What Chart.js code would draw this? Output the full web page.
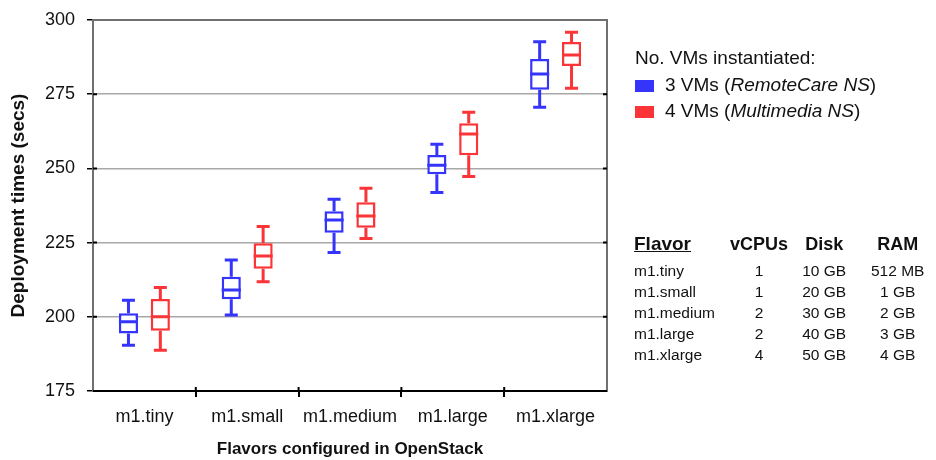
<!DOCTYPE html>
<html>
<head>
<meta charset="utf-8">
<script src="https://cdn.jsdelivr.net/npm/chart.js@4.4.1/dist/chart.umd.min.js"></script>
<style>
    body { margin: 0; background: #fff; font-family: "Liberation Sans", Arial, sans-serif; }
    #wrap { position: relative; width: 936px; height: 460px; }
    #boxChart { position: absolute; left: 0; top: 0; }
    .legend { position: absolute; left: 635px; top: 44px; font-size: 19px; color: #111; }
    .legend .title { height: 28px; line-height: 28px; }
    .legend .row { height: 26px; line-height: 26px; white-space: nowrap; }
    .legend .sw { display: inline-block; width: 19px; height: 12px; margin-right: 11px; vertical-align: -1px; }
    .flavors { position: absolute; left: 634px; top: 232px; border-collapse: collapse; color: #111; }
    .flavors td, .flavors th { padding: 0; white-space: nowrap; }
    .flavors th { font-size: 18px; font-weight: bold; height: 28px; line-height: 24px; text-align: center; vertical-align: top; }
    .flavors th.first { font-size: 19px; text-align: left; text-decoration: underline; }
    .flavors td { font-size: 15.5px; height: 21px; line-height: 21px; text-align: center; }
    .flavors td.first { text-align: left; }
</style>
</head>
<body>
<div id="wrap">
    <canvas id="boxChart" width="936" height="460"></canvas>
    <div class="legend">
        <div class="title">No. VMs instantiated:</div>
        <div class="row"><span class="sw" style="background:#3434fb"></span>3 VMs (<i>RemoteCare NS</i>)</div>
        <div class="row"><span class="sw" style="background:#fb3438"></span>4 VMs (<i>Multimedia NS</i>)</div>
    </div>
    <table class="flavors">
        <colgroup><col style="width:96px"><col style="width:60px"><col style="width:72px"><col style="width:78px"></colgroup>
        <tr><th class="first">Flavor</th><th>vCPUs</th><th>Disk</th><th>RAM</th></tr>
        <tr><td class="first">m1.tiny</td><td>1</td><td>10 GB</td><td>512 MB</td></tr>
        <tr><td class="first">m1.small</td><td>1</td><td>20 GB</td><td>1 GB</td></tr>
        <tr><td class="first">m1.medium</td><td>2</td><td>30 GB</td><td>2 GB</td></tr>
        <tr><td class="first">m1.large</td><td>2</td><td>40 GB</td><td>3 GB</td></tr>
        <tr><td class="first">m1.xlarge</td><td>4</td><td>50 GB</td><td>4 GB</td></tr>
    </table>
</div>
<script>
const categories = ['m1.tiny', 'm1.small', 'm1.medium', 'm1.large', 'm1.xlarge'];
const yTicks = [175, 200, 225, 250, 275, 300];

// 3 VMs (RemoteCare NS)
const vm3Min    = [190.4, 200.6, 221.7, 241.9, 270.6];
const vm3Q1     = [194.4, 205.9, 228.3, 248.0, 276.5];
const vm3Median = [198.3, 209.0, 232.6, 251.1, 281.8];
const vm3Q3     = [201.2, 213.5, 235.6, 254.5, 286.9];
const vm3Max    = [205.6, 219.1, 239.6, 258.1, 292.7];

// 4 VMs (Multimedia NS)
const vm4Min    = [188.7, 211.8, 226.4, 247.3, 277.0];
const vm4Q1     = [195.3, 216.2, 230.0, 254.4, 284.5];
const vm4Median = [200.0, 220.5, 234.0, 261.6, 288.2];
const vm4Q3     = [206.0, 224.8, 238.6, 265.2, 292.6];
const vm4Max    = [209.9, 230.4, 243.3, 268.9, 295.9];

const BLUE = '#3434fb';
const RED = '#fb3438';
const FONT = '"Liberation Sans", Arial, sans-serif';

function boxes(q1, q3) {
    return q1.map(function (v, i) { return [v, q3[i]]; });
}

/* whiskers + median on top of the floating bars */
const whiskerPlugin = {
    id: 'whiskers',
    afterDatasetsDraw(chart) {
        const ctx = chart.ctx;
        const y = chart.scales.y;
        chart.data.datasets.forEach(function (ds, di) {
            const meta = chart.getDatasetMeta(di);
            meta.data.forEach(function (bar, i) {
                const x = bar.x, half = bar.width / 2, cap = 6.5;
                const pMin = y.getPixelForValue(ds.stats.min[i]);
                const pMax = y.getPixelForValue(ds.stats.max[i]);
                const pQ1 = y.getPixelForValue(ds.stats.q1[i]);
                const pQ3 = y.getPixelForValue(ds.stats.q3[i]);
                const pMed = y.getPixelForValue(ds.stats.median[i]);
                ctx.save();
                ctx.strokeStyle = ds.borderColor;
                ctx.lineWidth = 3;
                ctx.beginPath();
                ctx.moveTo(x, pQ3); ctx.lineTo(x, pMax);
                ctx.moveTo(x, pQ1); ctx.lineTo(x, pMin);
                ctx.moveTo(x - cap, pMax); ctx.lineTo(x + cap, pMax);
                ctx.moveTo(x - cap, pMin); ctx.lineTo(x + cap, pMin);
                ctx.moveTo(x - half, pMed); ctx.lineTo(x + half, pMed);
                ctx.stroke();
                ctx.restore();
            });
        });
    }
};

/* plot frame and the small inner tick marks */
const framePlugin = {
    id: 'frame',
    afterDraw(chart) {
        const ctx = chart.ctx;
        const a = chart.chartArea;
        const y = chart.scales.y;
        const x = chart.scales.x;
        ctx.save();
        ctx.strokeStyle = '#707070';
        ctx.lineWidth = 2;
        ctx.strokeRect(a.left, a.top, a.right - a.left, a.bottom - a.top);
        ctx.strokeStyle = '#000';
        ctx.lineWidth = 2;
        ctx.beginPath();
        ctx.moveTo(a.left, a.bottom); ctx.lineTo(a.right, a.bottom);
        yTicks.slice(1, -1).forEach(function (v) {
            const p = y.getPixelForValue(v);
            ctx.moveTo(a.left, p); ctx.lineTo(a.left + 4, p);
            ctx.moveTo(a.right - 4, p); ctx.lineTo(a.right, p);
        });
        for (let i = 1; i < categories.length; i++) {
            const p = (x.getPixelForValue(i - 1) + x.getPixelForValue(i)) / 2;
            ctx.moveTo(p, a.bottom); ctx.lineTo(p, a.bottom - 4);
        }
        ctx.stroke();
        ctx.restore();
    }
};

new Chart(document.getElementById('boxChart'), {
    type: 'bar',
    data: {
        labels: categories,
        datasets: [{
            label: '3 VMs (RemoteCare NS)',
            data: boxes(vm3Q1, vm3Q3),
            stats: { min: vm3Min, q1: vm3Q1, median: vm3Median, q3: vm3Q3, max: vm3Max },
            backgroundColor: '#ffffff',
            borderColor: BLUE,
            borderWidth: 2.5,
            borderSkipped: false,
            categoryPercentage: 0.62,
            barPercentage: 0.6
        }, {
            label: '4 VMs (Multimedia NS)',
            data: boxes(vm4Q1, vm4Q3),
            stats: { min: vm4Min, q1: vm4Q1, median: vm4Median, q3: vm4Q3, max: vm4Max },
            backgroundColor: '#ffffff',
            borderColor: RED,
            borderWidth: 2.5,
            borderSkipped: false,
            categoryPercentage: 0.62,
            barPercentage: 0.6
        }]
    },
    options: {
        responsive: false,
        animation: false,
        layout: { padding: { top: 20, right: 329, bottom: 0, left: 0 } },
        plugins: {
            legend: { display: false },
            tooltip: { enabled: false }
        },
        scales: {
            x: {
                border: { display: false },
                grid: {
                    offset: true,
                    drawOnChartArea: false,
                    tickLength: 6,
                    lineWidth: 2,
                    color: function (c) {
                        return (c.type !== 'tick' || c.index === 0) ? 'rgba(0,0,0,0)' : '#000';
                    }
                },
                ticks: { color: '#111', padding: 9, font: { size: 18, family: FONT } },
                title: {
                    display: true,
                    text: 'Flavors configured in OpenStack',
                    color: '#111',
                    font: { size: 17, weight: 'bold', family: FONT },
                    padding: { top: 6, bottom: 0 }
                },
                afterFit: function (scale) {
                    scale.height = 69;
                    scale.paddingLeft = 0;
                    scale.paddingRight = 0;
                }
            },
            y: {
                min: 175,
                max: 300,
                border: { display: false },
                grid: {
                    color: function (c) { return (c.tick && (c.tick.value === 175 || c.tick.value === 300)) ? 'rgba(0,0,0,0)' : '#a8a8a8'; },
                    lineWidth: 1.5,
                    tickColor: '#000',
                    tickLength: 6
                },
                afterBuildTicks: function (scale) {
                    scale.ticks = yTicks.map(function (v) { return { value: v }; });
                },
                ticks: { color: '#111', padding: 12, font: { size: 18, family: FONT } },
                title: {
                    display: true,
                    text: 'Deployment times (secs)',
                    color: '#111',
                    font: { size: 19, weight: 'bold', family: FONT },
                    padding: { top: 7, bottom: 0 }
                },
                afterFit: function (scale) {
                    scale.width = 93;
                    scale.paddingTop = 0;
                    scale.paddingBottom = 0;
                }
            }
        }
    },
    plugins: [whiskerPlugin, framePlugin]
});
</script>
</body>
</html>
